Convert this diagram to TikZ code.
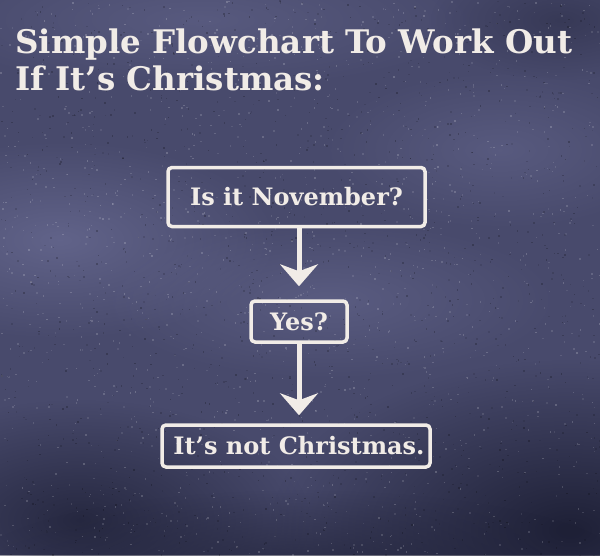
\documentclass[tikz,border=0pt]{standalone}
\usepackage{fontspec}
\setmainfont{DejaVu Serif}
\usetikzlibrary{arrows.meta,fadings}
\definecolor{bg}{HTML}{484A6C}
\definecolor{bglight}{HTML}{6C6E96}
\definecolor{bgdark}{HTML}{1E2036}
\definecolor{chalk}{HTML}{F1ECE7}
\tikzfading[name=softglow, inner color=transparent!0, outer color=transparent!100]
\begin{document}
\begin{tikzpicture}[x=1pt,y=-1pt,
  flowbox/.style={draw=chalk, line width=3.5pt, rounded corners=4pt, inner sep=0pt, text=chalk,
     font=\fontsize{24}{28}\selectfont\bfseries},
  flowarrow/.style={draw=chalk, line width=5pt, -{Stealth[length=22pt,width=38pt,inset=7pt]}}]
\useasboundingbox (0,0) rectangle (600,555);
% background
\begin{scope}
\clip (0,0) rectangle (600,555);
\fill[bg] (0,0) rectangle (600,555);
\fill[bglight, fill opacity=0.7, path fading=softglow] (60,240) ellipse (220 and 100);
\fill[bglight, fill opacity=0.5, path fading=softglow] (330,300) ellipse (230 and 80);
\fill[bglight, fill opacity=0.45, path fading=softglow] (200,20) ellipse (280 and 70);
\fill[bglight, fill opacity=0.45, path fading=softglow] (500,150) ellipse (180 and 80);
\fill[bgdark, fill opacity=1, path fading=softglow] (570,530) ellipse (300 and 170);
\fill[bgdark, fill opacity=0.8, path fading=softglow] (80,520) ellipse (230 and 120);
\fill[bgdark, fill opacity=0.7, path fading=softglow] (300,570) ellipse (330 and 80);
\fill[bgdark, fill opacity=0.4, path fading=softglow] (560,20) ellipse (130 and 60);
\pgfmathsetseed{7}
\foreach \i in {1,...,1400} {
  \pgfmathsetmacro{\px}{600*rnd}
  \pgfmathsetmacro{\py}{555*rnd}
  \pgfmathsetmacro{\po}{0.08+0.12*rnd}
  \fill[white, fill opacity=\po] (\px,\py) rectangle ++(1.5,1.5);
}
\foreach \i in {1,...,1400} {
  \pgfmathsetmacro{\px}{600*rnd}
  \pgfmathsetmacro{\py}{555*rnd}
  \pgfmathsetmacro{\po}{0.08+0.15*rnd}
  \fill[black, fill opacity=\po] (\px,\py) rectangle ++(1.5,1.5);
}
\end{scope}
% title
\node[anchor=base west, text=chalk, align=left, inner sep=0pt,
  font=\fontsize{32.5}{37}\selectfont\bfseries] (title) at (15,90)
  {Simple Flowchart To Work Out\\If It’s Christmas:};
% boxes
\node[flowbox, minimum width=257pt, minimum height=59pt] (nov) at (296.5,197) {Is it November?};
\node[flowbox, minimum width=96pt, minimum height=41pt] (yes) at (299,321.5) {Yes?};
\node[flowbox, minimum width=268pt, minimum height=42pt] (not) at (296,446) {\hspace*{6pt}It’s not Christmas.};
% arrows
\draw[flowarrow, shorten >=13pt] (nov.south -| yes.north) -- (yes.north);
\draw[flowarrow, shorten >=8pt] (yes.south) -- (yes.south |- not.north);
\end{tikzpicture}
\end{document}
